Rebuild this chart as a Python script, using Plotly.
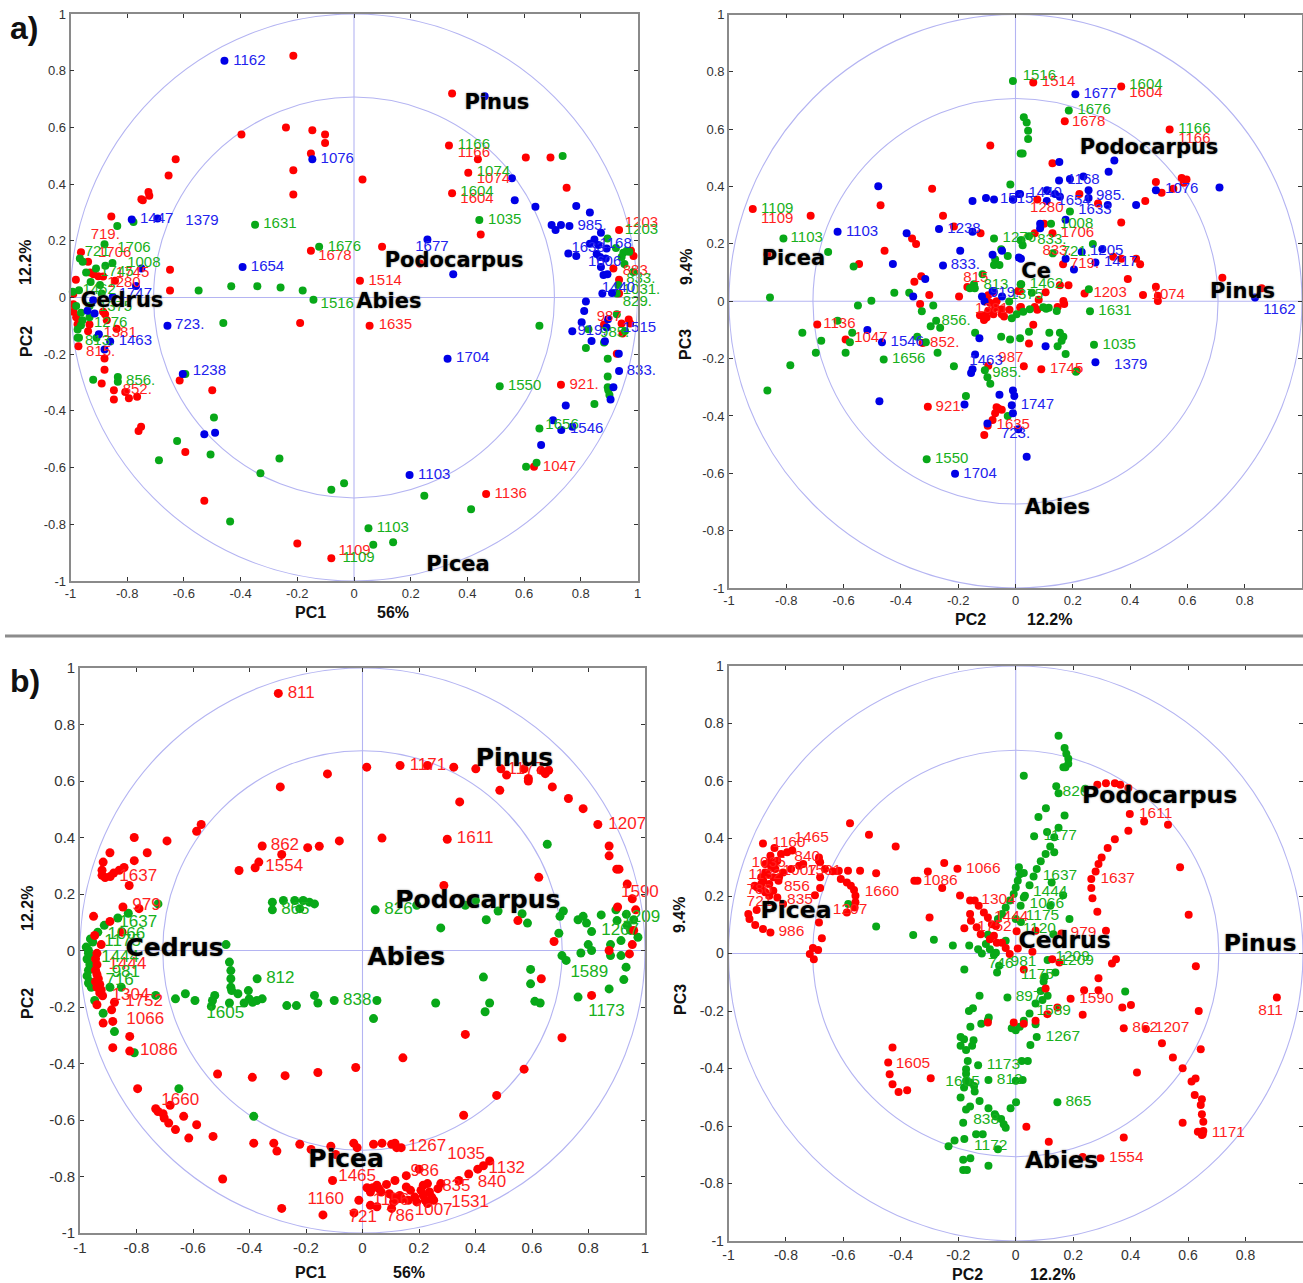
import plotly.graph_objects as go

PAGE_W, PAGE_H = 1303, 1283
TICK_VALUES = [-1, -0.8, -0.6, -0.4, -0.2, 0, 0.2, 0.4, 0.6, 0.8, 1]
TICK_LABELS = ["-1", "-0.8", "-0.6", "-0.4", "-0.2", "0", "0.2", "0.4", "0.6", "0.8", "1"]
CIRCLE_RADII = [1.0, 0.707]

# ---------- panel a) PC1 / PC2 ----------
A1_RED = [(-0.214,0.853),(-0.24,0.6),(-0.397,0.575),(-0.147,0.59),(-0.102,0.575),(-0.102,0.545),(-0.152,0.508),(-0.214,0.449),(-0.214,0.363),(-0.629,0.488),(-0.654,0.43),(-0.725,0.372),(-0.722,0.359),(-0.75,0.347),(-0.745,0.343),(-0.856,0.286),(-0.963,0.16),(-0.938,0.126),(-0.981,0.063),(-0.649,0.098),(-0.649,0.025),(-0.152,0.165),(-0.931,0.088),(-0.919,0.082),(-0.902,0.075),(-0.885,0.074),(-0.843,0.059),(-0.99,0.012),
(-0.19,-0.09),(-0.615,-0.293),(-0.5,-0.327),(-0.751,-0.456),(-0.76,-0.471),(-0.595,-0.545),(-0.528,-0.717),(-0.2,-0.868),(-0.08,-0.92),(-0.847,-0.327),(-0.847,-0.36),(-0.807,-0.333),(-0.794,-0.355),(-0.765,-0.35),(-0.89,-0.303),(-0.88,-0.255),(-0.88,-0.215),(-0.972,-0.172),(-0.938,-0.119),(-0.933,-0.095),(-0.837,-0.11),(-0.872,-0.08),(-0.878,-0.059),(-0.975,-0.094),(-0.98,-0.07),(-0.99,-0.05),(-0.99,-0.024),(-0.885,-0.05),
(0.346,0.72),(0.335,0.536),(0.437,0.488),(0.606,0.494),(0.693,0.494),(0.403,0.44),(0.75,0.387),(0.346,0.368),(0.447,0.222),(0.099,0.179),(0.03,0.416),(0.233,0.12),(0.021,0.059),(0.935,0.238),(0.977,0.165),(0.986,0.146),(0.915,0.102),(0.935,0.063),(0.935,0.014),
(0.055,-0.1),(0.73,-0.308),(0.882,-0.095),(0.944,-0.092),(0.969,-0.078),(0.974,-0.092),(0.947,-0.127),(0.927,-0.198),(0.635,-0.597),(0.466,-0.693)]
A1_GREEN = [(-0.835,0.252),(-0.778,0.266),(-0.88,0.188),(-0.967,0.138),(-0.957,0.126),(-0.91,0.102),(-0.945,0.088),(-0.877,0.112),(-0.852,0.122),(-0.929,0.055),(-0.896,0.044),(-0.992,0.02),(-0.97,0.026),(-0.89,0.014),(-0.548,0.025),(-0.433,0.04),(-0.341,0.04),(-0.259,0.035),(-0.181,0.025),(-0.143,-0.008),(-0.349,0.257),(-0.123,0.179),
(-0.461,-0.09),(-0.92,-0.29),(-0.833,-0.28),(-0.833,-0.297),(-0.494,-0.423),(-0.624,-0.506),(-0.506,-0.554),(-0.688,-0.574),(-0.263,-0.568),(-0.33,-0.62),(-0.08,-0.678),(-0.035,-0.655),(-0.437,-0.79),(-0.595,-0.27),(-0.908,-0.142),(-0.975,-0.142),(-0.97,-0.142),(-0.975,-0.113),(-0.933,-0.07),(-0.963,-0.098),(-0.958,-0.08),(-0.963,-0.054),(-0.933,-0.03),(-0.98,-0.03),
(0.736,0.499),(0.442,0.273),(0.894,0.208),(0.924,0.175),(0.944,0.143),(0.95,0.158),(0.962,0.165),(0.971,0.161),(0.954,0.118),(0.985,0.09),(0.932,0.044),(0.927,0.014),
(0.654,-0.1),(0.514,-0.313),(0.827,-0.112),(0.927,-0.059),(0.818,-0.178),(0.882,-0.159),(0.956,-0.118),(0.895,-0.216),(0.895,-0.279),(0.895,-0.317),(0.897,-0.327),(0.901,-0.344),(0.848,-0.376),(0.654,-0.462),(0.644,-0.583),(0.607,-0.597),(0.248,-0.699),(0.413,-0.747),(0.051,-0.814),(0.138,-0.863),(0.068,-0.872)]
A1_BLUE = [(-0.457,0.835),(-0.784,0.275),(-0.693,0.279),(-0.147,0.488),(-0.393,0.108),(-0.75,0.102),(-0.769,0.041),(-0.851,0.002),(-0.92,-0.01),
(-0.658,-0.1),(-0.604,-0.27),(-0.528,-0.482),(-0.49,-0.477),(-0.9,-0.13),(-0.86,-0.155),(-0.88,-0.183),(-0.94,-0.047),(-0.915,-0.056),
(0.461,0.71),(0.557,0.421),(0.567,0.343),(0.64,0.32),(0.697,0.256),(0.711,0.238),(0.73,0.256),(0.76,0.252),(0.784,0.323),(0.832,0.3),(0.871,0.228),(0.259,0.205),(0.35,0.082),(0.756,0.155),(0.784,0.146),(0.832,0.19),(0.848,0.205),(0.862,0.185),(0.856,0.153),(0.891,0.173),(0.888,0.138),(0.868,0.143),(0.871,0.108),(0.88,0.079),(0.894,0.082),(0.876,0.014),(0.91,0.016),(0.818,-0.014),
(0.33,-0.216),(0.196,-0.626),(0.812,-0.048),(0.803,-0.087),(0.77,-0.119),(0.896,-0.077),(0.891,-0.106),(0.838,-0.153),(0.885,-0.154),(0.934,-0.198),(0.935,-0.259),(0.915,-0.317),(0.905,-0.36),(0.747,-0.381),(0.702,-0.433),(0.731,-0.467),(0.66,-0.52),(0.77,-0.456)]
A1_RED_TEXT = [("719.",-0.929,0.22),("1706",-0.903,0.155),("1745",-0.84,0.087),("1280",-0.87,0.05),("1381",-0.884,-0.127),("815.",-0.945,-0.192),("852.",-0.816,-0.327),("1678",-0.126,0.146),("1514",0.051,0.059),("1635",0.087,-0.099),("1166",0.366,0.508),("1074",0.433,0.416),("1604",0.375,0.348),("1203",0.955,0.263),("883.",0.948,0.094),("987",0.856,-0.068),("921.",0.76,-0.308),("1047",0.666,-0.597),("1136",0.496,-0.693),("1109",-0.055,-0.894)]
A1_GREEN_TEXT = [("1706",-0.835,0.175),("721",-0.95,0.16),("1008",-0.8,0.122),("1745",-0.895,0.09),("1462",-0.958,0.025),("1375",-0.9,-0.035),("1276",-0.917,-0.09),("813.",-0.949,-0.156),("856.",-0.804,-0.297),("1631",-0.32,0.259),("1676",-0.093,0.179),("1516",-0.118,-0.024),("1166",0.366,0.537),("1074",0.433,0.441),("1604",0.375,0.372),("1035",0.473,0.273),("1203",0.955,0.238),("833.",0.96,0.063),("1031.",0.948,0.026),("829.",0.948,-0.018),("985.",0.868,-0.127),("1550",0.543,-0.313),("1656",0.675,-0.452),("1103",0.08,-0.814),("1109",-0.041,-0.921)]
A1_BLUE_TEXT = [("1162",-0.426,0.835),("1076",-0.118,0.489),("1447",-0.755,0.277),("1379",-0.595,0.268),("1654",-0.364,0.108),("1747",-0.83,0.012),("723.",-0.631,-0.099),("1463",-0.83,-0.153),("1238",-0.569,-0.26),("985.",0.788,0.253),("1168",0.866,0.187),("1633",0.767,0.173),("1606",0.825,0.126),("1677",0.216,0.179),("1440",0.874,0.032),("919.",0.788,-0.118),("1515",0.948,-0.108),("833.",0.962,-0.259),("1704",0.36,-0.216),("1546",0.762,-0.466),("1103",0.226,-0.626)]
A1_GENERA = [("Pinus",0.504,0.683),("Podocarpus",0.353,0.125),("Abies",0.123,-0.019),("Cedrus",-0.818,-0.016),("Picea",0.367,-0.947)]

# ---------- panel a) PC2 / PC3 ----------
A2_RED = [(-0.917,0.322),(-0.715,0.298),(-0.088,0.543),(-0.291,0.392),(-0.471,0.335),(-0.253,0.298),(-0.215,0.261),(-0.122,0.237),(-0.361,0.219),(-0.347,0.2),(-0.457,0.176),(-0.546,0.13),(-0.329,0.087),(-0.353,0.068),(-0.168,0.05),(-0.301,0.022),(-0.197,0.017),(-0.333,-0.01),(-0.077,0.032),(-0.095,0.021),(-0.866,0.164),
(-0.089,-0.005),(-0.066,0),(-0.071,-0.022),(-0.048,-0.028),(-0.095,-0.033),(-0.124,-0.049),(-0.077,-0.045),(-0.021,-0.03),(0.01,0.036),(0.016,-0.022),(-0.11,-0.065),(-0.115,-0.049),(-0.101,-0.057),(-0.048,-0.045),(-0.04,-0.053),
(-0.692,-0.081),(-0.593,-0.133),(-0.324,-0.146),(-0.306,-0.368),(-0.095,-0.225),(-0.066,-0.37),(-0.048,-0.378),(-0.06,-0.374),(-0.071,-0.391),(-0.08,-0.414),(-0.097,-0.434),(-0.109,-0.466),
(0.062,0.763),(0.369,0.749),(0.172,0.628),(0.538,0.599),(0.129,0.481),(0.58,0.43),(0.597,0.425),(0.588,0.413),(0.551,0.392),(0.49,0.416),(0.51,0.378),(0.453,0.35),(0.223,0.374),(0.076,0.355),(0.288,0.341),(0.369,0.275),(0.1,0.27),(0.067,0.237),(0.129,0.237),(0.341,0.155),(0.37,0.148),(0.421,0.148),(0.435,0.129),(0.166,0.129),(0.392,0.078),(0.722,0.082),(0.859,0.045),(0.49,0.051),(0.497,0.019),(0.497,0.001),(0.445,0.022),(0.241,0.027),(0.155,0.056),(0.185,0.056),(0.105,0.031),(0.081,0.005),(0.016,0.035),(0.167,0.001),(0.17,-0.01),(0.147,-0.02),(0.067,-0.02),(0.076,-0.03),(0.019,-0.02),
(0.062,-0.082),(0.047,-0.147),(0.029,-0.227),(0.09,-0.237),(0.214,-0.242)]
A2_GREEN = [(-0.009,0.768),(0.018,0.515),(-0.018,0.407),(-0.075,0.219),(-0.05,0.181),(-0.027,0.158),(-0.071,0.146),(-0.075,0.126),(-0.056,0.126),(0.018,0.213),(-0.654,0.172),(-0.565,0.121),(-0.81,0.219),(-0.857,0.013),(-0.423,0.03),(-0.371,0.03),(-0.503,0.002),(-0.55,-0.015),(-0.287,-0.015),(-0.327,-0.035),(-0.145,0.059),(-0.159,0.045),(-0.142,0.045),(-0.115,0.094),(-0.022,-0.001),(0.018,0.059),
(-0.621,-0.068),(-0.744,-0.11),(-0.678,-0.138),(-0.57,-0.11),(-0.578,-0.143),(-0.697,-0.18),(-0.786,-0.223),(-0.593,-0.18),(-0.866,-0.311),(-0.46,-0.203),(-0.296,-0.087),(-0.277,-0.068),(-0.263,-0.092),(-0.343,-0.124),(-0.313,-0.143),(-0.272,-0.18),(-0.215,-0.227),(-0.141,-0.11),(-0.05,-0.124),(-0.019,-0.133),(-0.173,-0.33),(-0.107,-0.241),(-0.098,-0.265),(-0.088,-0.288),(-0.31,-0.551),(-0.027,-0.4),(-0.013,-0.059),(0.004,-0.045),
(0.029,0.642),(0.039,0.623),(0.044,0.595),(0.044,0.566),(0.025,0.515),(0.186,0.665),(0.19,0.313),(0.124,0.27),(0.27,0.2),(0.13,0.167),(0.047,0.227),(0.021,0.213),(0.025,0.195),(0.02,0.059),(0.057,0.03),(0.256,0.042),(0.107,-0.026),(0.116,-0.023),(0.097,-0.021),(0.144,-0.034),(0.05,-0.028),(0.027,-0.037),(0.26,-0.035),
(0.047,-0.106),(0.118,-0.11),(0.155,-0.11),(0.167,-0.124),(0.161,-0.138),(0.147,-0.157),(0.016,-0.129),(0.274,-0.152),(0.175,-0.184),(0.211,-0.246)]
A2_BLUE = [(-0.479,0.401),(-0.621,0.242),(-0.38,0.237),(-0.267,0.252),(-0.15,0.242),(-0.15,0.35),(-0.103,0.36),(-0.075,0.355),(-0.009,0.355),(0.012,0.374),(-0.193,0.176),(-0.08,0.162),(-0.047,0.176),(-0.428,0.13),(-0.253,0.125),(-0.315,0.078),(-0.357,0.017),(-0.08,0.036),(-0.117,0.017),(-0.047,0.017),(-0.108,-0.001),(0.012,0.153),
(-0.517,-0.1),(-0.466,-0.143),(-0.475,-0.349),(-0.126,-0.129),(-0.141,-0.186),(-0.15,-0.237),(-0.155,-0.25),(-0.178,-0.36),(-0.211,-0.602),(-0.056,-0.326),(-0.009,-0.311),(-0.004,-0.33),(-0.013,-0.363),(-0.009,-0.391),(-0.098,-0.426),(0.01,-0.446),
(0.209,0.722),(0.712,0.397),(0.153,0.486),(0.345,0.491),(0.325,0.452),(0.152,0.421),(0.19,0.426),(0.237,0.435),(0.255,0.387),(0.255,0.36),(0.421,0.336),(0.322,0.336),(0.49,0.387),(0.11,0.387),(0.016,0.374),(-0.008,0.355),(0.109,0.35),(0.138,0.374),(0.155,0.364),(0.175,0.284),(0.086,0.27),(0.086,0.255),(0.019,0.148),(0.231,0.172),(0.303,0.181),(0.175,0.148),(0.204,0.111),(0.279,0.135),(0.836,0.013),
(0.105,-0.157),(0.279,-0.213),(0.039,-0.542)]
A2_RED_TEXT = [("1109",-0.888,0.285),("815",-0.182,0.079),("1381",-0.141,-0.028),("1136",-0.671,-0.081),("1047",-0.563,-0.13),("852.",-0.298,-0.146),("987",-0.06,-0.198),("921.",-0.279,-0.368),("1635",-0.066,-0.434),("1514",0.092,0.763),("1604",0.397,0.726),("1678",0.197,0.623),("1166",0.568,0.566),("1280",0.051,0.326),("1706",0.158,0.237),("833.",0.094,0.175),("719.",0.19,0.129),("1203",0.272,0.027),("1074",0.475,0.022),("1745",0.12,-0.237)]
A2_GREEN_TEXT = [("1109",-0.888,0.322),("1103",-0.785,0.219),("1276",-0.045,0.219),("813",-0.112,0.056),("856.",-0.258,-0.068),("1656",-0.431,-0.203),("985.",-0.081,-0.25),("1550",-0.281,-0.551),("1516",0.025,0.784),("1604",0.397,0.752),("1676",0.216,0.665),("1166",0.568,0.599),("1008",0.155,0.27),("833.",0.076,0.213),("721.",0.161,0.17),("1462",0.05,0.059),("1375",-0.02,0.02),("1631",0.289,-0.035),("1035",0.304,-0.152)]
A2_BLUE_TEXT = [("1103",-0.592,0.242),("1238",-0.238,0.252),("833.",-0.226,0.125),("919.",-0.089,0.027),("1546",-0.436,-0.143),("1463",-0.161,-0.21),("723.",-0.051,-0.463),("1704",-0.182,-0.602),("1677",0.237,0.722),("1168",0.181,0.422),("1076",0.522,0.39),("1440",0.045,0.375),("985.",0.281,0.367),("1654",0.146,0.35),("1515",-0.054,0.355),("1633",0.219,0.318),("1205",0.26,0.173),("1417",0.309,0.135),("1162",0.865,-0.03),("1379",0.344,-0.222),("1747",0.018,-0.363)]
A2_GENERA = [("Podocarpus",0.466,0.531),("Pinus",0.792,0.03),("Abies",0.146,-0.724),("Picea",-0.775,0.146),("Ce",0.072,0.1)]

# ---------- panel b) PC1 / PC2 ----------
B1_RED = [(-0.298,0.91),(0.015,0.649),(0.133,0.655),(0.23,0.655),(0.323,0.649),(0.401,0.643),(0.49,0.643),(0.51,0.621),(0.572,0.643),(0.632,0.638),(0.659,0.638),(0.647,0.626),(0.587,0.609),(0.587,0.6),(0.672,0.579),(0.486,0.567),(0.729,0.538),(0.781,0.502),(0.833,0.446),(0.873,0.37),(0.873,0.335),(0.9,0.288),(0.908,0.288),(0.937,0.235),(0.955,0.183),(0.967,0.144),(0.903,0.154),(0.96,0.071),(0.955,0.021),(0.873,0),(0.945,-0.012),(0.678,0.032),(0.55,0.106),(0.624,0.259),(0.288,0.23),(0.344,0.526),(0.3,0.394),(0.069,0.398),(-0.082,0.388),(-0.153,0.369),(-0.194,0.364),(-0.286,0.34),(-0.355,0.37),(-0.291,0.579),(-0.124,0.625),(-0.367,0.313),(-0.38,0.293),(-0.437,0.283),(-0.571,0.446),(-0.587,0.422),(-0.692,0.388),(-0.762,0.346),(-0.808,0.4),(-0.808,0.318),(-0.894,0.346),(-0.918,0.313),(-0.922,0.284),(-0.922,0.266),(-0.911,0.258),(-0.893,0.262),(-0.881,0.274),(-0.861,0.284),(-0.844,0.294),(-0.826,0.23),(-0.848,0.154),(-0.791,0.148),(-0.894,0.103),(-0.952,0.121),(-0.851,0.065),(-0.925,0.021),(-0.948,0.053),
(0.633,-0.1),(0.811,-0.159),(0.364,-0.297),(0.706,-0.309),(0.143,-0.38),(-0.024,-0.414),(-0.158,-0.432),(-0.274,-0.443),(-0.39,-0.449),(-0.513,-0.437),(0.572,-0.42),(0.475,-0.513),(0.358,-0.583),(-0.796,-0.489),(-0.681,-0.548),(-0.732,-0.56),(-0.724,-0.57),(-0.706,-0.578),(-0.702,-0.593),(-0.686,-0.611),(-0.662,-0.634),(-0.633,-0.587),(-0.587,-0.617),(-0.615,-0.664),(-0.529,-0.658),(-0.385,-0.682),(-0.314,-0.682),(-0.303,-0.71),(-0.222,-0.686),(-0.182,-0.704),(-0.112,-0.693),(-0.095,-0.722),(-0.031,-0.682),(-0.019,-0.698),(0.039,-0.686),(0.069,-0.682),(0.103,-0.686),(0.115,-0.682),(0.121,-0.698),(0.137,-0.698),(-0.495,-0.809),(-0.286,-0.913),(-0.14,-0.936),(-0.106,-0.814),(-0.013,-0.884),(-0.03,-0.929),(0.028,-0.902),(0.051,-0.907),(0.103,-0.913),(0.45,-0.745),(0.428,-0.762),(0.408,-0.774),(0.376,-0.791),(0.341,-0.814),(0.277,-0.825),(0.2,-0.774),(0.155,-0.797),(0.115,-0.814),
(0.016,-0.84),(0.036,-0.84),(0.058,-0.843),(0.085,-0.828),(0.066,-0.855),(0.095,-0.861),(0.11,-0.873),(0.125,-0.879),(0.155,-0.837),(0.17,-0.849),(0.14,-0.879),(0.185,-0.873),(0.192,-0.89),(0.215,-0.831),(0.23,-0.825),(0.215,-0.867),(0.237,-0.855),(0.252,-0.884),(0.267,-0.843),(0.222,-0.884),(0.162,-0.884),(0.207,-0.849),(0.245,-0.873),(0.23,-0.896),(0.028,-0.855),(0.051,-0.831),(0.11,-0.89),(0.132,-0.867),
(-0.94,-0.01),(-0.945,-0.03),(-0.94,-0.05),(-0.945,-0.07),(-0.94,-0.085),(-0.935,-0.1),(-0.945,-0.11),(-0.93,-0.12),(-0.94,-0.13),(-0.925,-0.14),(-0.93,-0.15),(-0.92,-0.16),(-0.94,-0.192),(-0.878,-0.183),(-0.888,-0.21),(-0.918,-0.257),(-0.884,-0.251),(-0.824,-0.304),(-0.884,-0.344),(-0.824,-0.356)]
B1_GREEN = [(0.654,0.376),(0.277,0.08),(0.438,0.109),(0.48,0.14),(0.565,0.13),(0.584,0.097),(0.364,0.16),(0.4,0.177),(0.192,0.16),(0.045,0.144),(0.711,0.14),(0.699,0.121),(0.695,0.061),(0.763,0.109),(0.781,0.121),(0.793,0.097),(0.845,0.126),(0.811,0.067),(0.897,0.144),(0.901,0.106),(0.934,0.128),(0.96,0.109),(0.937,0.089),(0.949,0.071),(0.915,0.035),(0.975,0.047),(0.878,0.021),(0.799,0.021),(0.811,0),(0.773,-0.009),(0.878,-0.018),(0.915,-0.018),(0.706,-0.018),(-0.483,0.021),(-0.319,0.171),(-0.319,0.144),(-0.28,0.177),(-0.24,0.177),(-0.21,0.177),(-0.188,0.171),(-0.17,0.165),(-0.222,0.148),(-0.724,0.165),(-0.829,0.132),(-0.866,0.115),(-0.914,0.089),(-0.937,0.065),(-0.963,0.041),(-0.978,0.012),
(0.595,-0.067),(0.595,-0.118),(0.428,-0.094),(0.721,-0.035),(0.933,-0.059),(0.925,-0.103),(0.873,-0.136),(0.763,-0.165),(0.61,-0.18),(0.629,-0.186),(0.45,-0.186),(0.434,-0.217),(0.259,-0.186),(0.051,-0.177),(0.039,-0.241),(-0.158,-0.186),(-0.1,-0.177),(-0.17,-0.159),(-0.234,-0.195),(-0.268,-0.195),(-0.355,-0.171),(-0.374,-0.177),(-0.389,-0.183),(-0.404,-0.142),(-0.401,-0.171),(-0.419,-0.186),(-0.373,-0.1),(-0.471,-0.041),(-0.466,-0.071),(-0.466,-0.1),(-0.466,-0.13),(-0.463,-0.142),(-0.441,-0.153),(-0.471,-0.186),(-0.523,-0.159),(-0.531,-0.177),(-0.535,-0.198),(-0.593,-0.177),(-0.627,-0.153),(-0.662,-0.171),(-0.732,-0.159),(-0.918,-0.222),(-0.878,-0.287),(-0.808,-0.362),(-0.65,-0.489),(-0.385,-0.587),(-0.894,-0.13),(-0.854,-0.13),(-0.948,-0.177),
(-0.97,-0.01),(-0.975,-0.03),(-0.965,-0.05),(-0.97,-0.07),(-0.975,-0.09),(-0.965,-0.11),(-0.96,-0.13),(-0.97,0.0),(-0.96,-0.02),(-0.96,-0.06),(-0.97,-0.115),(-0.955,0.03)]
B1_RED_TEXT = [("811",-0.265,0.91),("1171",0.167,0.655),("1177",0.513,0.64),("1207",0.87,0.446),("1611",0.334,0.394),("862",-0.325,0.372),("1554",-0.344,0.296),("1637",-0.861,0.26),("979",-0.815,0.157),("1590",0.915,0.203),("1444",-0.899,-0.05),("1304",-0.888,-0.159),("1752",-0.84,-0.183),("1066",-0.836,-0.245),("1086",-0.788,-0.356),("1660",-0.712,-0.533),("1267",0.162,-0.696),("1035",0.3,-0.724),("1132",0.446,-0.772),("986",0.17,-0.783),("1465",-0.086,-0.8),("840",0.408,-0.822),("835",0.282,-0.835),("1531",0.314,-0.894),("1007",0.185,-0.92),("786",0.083,-0.943),("721",-0.049,-0.947),("1160",-0.195,-0.882),("1156",0.036,-0.887)]
B1_GREEN_TEXT = [("1637",-0.861,0.1),("865",-0.288,0.144),("826",0.077,0.144),("1209",0.92,0.116),("1267",0.845,0.069),("1066",-0.903,0.057),("1175",-0.914,0.03),("1444",-0.925,-0.024),("981",-0.888,-0.077),("716",-0.91,-0.106),("812",-0.341,-0.1),("838",-0.069,-0.177),("1605",-0.553,-0.224),("1589",0.736,-0.077),("1173",0.799,-0.217)]
B1_GENERA = [("Pinus",0.538,0.676),("Podocarpus",0.408,0.171),("Cedrus",-0.665,0.002),("Abies",0.155,-0.03),("Picea",-0.058,-0.745)]

# ---------- panel b) PC2 / PC3 ----------
B2_RED = [(-0.577,0.453),(-0.511,0.413),(-0.418,0.372),(-0.88,0.383),(-0.84,0.367),(-0.249,0.315),(-0.306,0.285),(-0.203,0.295),(-0.353,0.253),(-0.342,0.253),(-0.256,0.228),(-0.194,0.202),(-0.159,0.184),(-0.143,0.184),(-0.129,0.166),(-0.111,0.143),(-0.097,0.125),(-0.083,0.102),(-0.069,0.096),(-0.159,0.137),(-0.156,0.114),(-0.179,0.088),(-0.136,0.091),(-0.3,0.125),(-0.122,0.067),(-0.09,0.05),(-0.076,0.062),(-0.066,0.037),(-0.048,0.037),(-0.035,0.019),(-0.021,-0.002),(0.003,0.077),(0.007,0.017),(0.069,0.079),(0.058,0.006),(0.159,0.07),(0.314,0.079),(0.284,0.145),(0.267,0.192),(0.263,0.228),(0.263,0.259),(0.278,0.285),(0.288,0.311),(0.299,0.334),(0.32,0.367),(0.345,0.397),(0.392,0.427),(0.447,0.459),(0.397,0.485),(0.53,0.448),(0.572,0.3),(0.602,0.135),(0.392,0.576),(0.364,0.587),(0.345,0.592),(0.314,0.592),(0.284,0.587),
(-0.931,0.137),(-0.927,0.12),(-0.907,0.099),(-0.88,0.085),(-0.854,0.073),(-0.902,0.151),(-0.685,0.108),(-0.675,0.053),(-0.706,0.019),(-0.688,0.012),(-0.717,-0.002),(-0.584,0.288),(-0.542,0.288),(-0.486,0.279),(-0.616,0.288),(-0.637,0.286),(-0.664,0.294),(-0.681,0.317),(-0.685,0.334),(-0.699,0.203),(-0.609,0.259),(-0.588,0.247),(-0.574,0.236),(-0.563,0.221),(-0.558,0.201),(-0.558,0.178),(-0.561,0.16),(-0.588,0.143),(-0.681,0.228),(-0.681,0.265),
(-0.886,0.242),(-0.872,0.282),(-0.858,0.317),(-0.854,0.34),(-0.872,0.311),(-0.886,0.265),(-0.886,0.224),(-0.872,0.213),(-0.858,0.242),(-0.844,0.265),(-0.837,0.294),(-0.83,0.323),(-0.817,0.346),(-0.796,0.352),(-0.778,0.358),(-0.824,0.265),(-0.81,0.282),(-0.782,0.294),(-0.754,0.305),(-0.74,0.311),(-0.858,0.201),(-0.83,0.195),(-0.826,0.253),(-0.844,0.218),(-0.879,0.253),(-0.865,0.276),(-0.851,0.3),(-0.837,0.317),(-0.9,0.23),(-0.909,0.236),(-0.81,0.172),(-0.685,0.323),
(-0.703,-0.02),(0.127,-0.02),(0.152,-0.031),(0.349,-0.02),(0.335,-0.035),(0.627,-0.044),(0.288,-0.086),(0.028,-0.056),(0.104,-0.122),(0.238,-0.128),(0.288,-0.128),(0.191,-0.157),(0.401,-0.179),(0.371,-0.188),(0.637,-0.2),(0.909,-0.153),(0.145,-0.188),(0.11,-0.211),(0.233,-0.213),(0.069,-0.234),(0.028,-0.244),(-0.007,-0.24),(-0.097,-0.24),(0.376,-0.26),(0.453,-0.263),(0.509,-0.312),(0.547,-0.362),(0.581,-0.399),(0.644,-0.333),(0.422,-0.414),(0.626,-0.435),(0.612,-0.445),(0.623,-0.492),(0.648,-0.507),(0.644,-0.527),(0.648,-0.559),(0.581,-0.589),(0.653,-0.585),(0.634,-0.62),(0.653,-0.617),(0.651,-0.629),(0.648,-0.631),(0.376,-0.64),(0.115,-0.655),(0.037,-0.603),(0.233,-0.708),(0.295,-0.712),(-0.429,-0.327),(-0.444,-0.379),(-0.439,-0.42),(-0.429,-0.455),(-0.408,-0.482),(-0.378,-0.476),(-0.296,-0.434)]
B2_GREEN = [(0.149,0.757),(0.17,0.715),(0.176,0.695),(0.183,0.677),(0.183,0.66),(0.173,0.648),(0.166,0.648),(0.028,0.618),(0.141,0.582),(0.149,0.557),(0.242,0.573),(0.105,0.505),(0.079,0.475),(0.17,0.48),(0.149,0.437),(0.109,0.423),(0.064,0.408),(0.134,0.404),(0.12,0.372),(0.104,0.346),(0.134,0.352),(0.087,0.321),(0.073,0.294),(0.062,0.268),(0.011,0.3),(0.028,0.28),(0.014,0.276),(0.007,0.253),(0,0.23),(-0.007,0.207),(-0.021,0.184),(-0.035,0.16),(-0.048,0.137),(-0.062,0.12),(0.048,0.237),(0.032,0.201),(0.028,0.195),(0.125,0.247),(0.165,0.203),(0.12,0.166),(0.187,0.12),(0.017,0.166),(0,0.12),(0.018,0.11),(0.131,0.067),(-0.035,0.044),(-0.097,0.065),(-0.104,0.033),(-0.09,0.015),(-0.069,0.003),(-0.076,-0.005),(-0.162,0.028),(-0.131,0.015),(-0.118,0),(-0.219,0.028),(-0.285,0.048),(-0.357,0.064),(-0.486,0.094),(-0.583,0.172),(0.111,-0.023),
(-0.179,-0.056),(-0.065,-0.066),(-0.058,-0.043),(0.138,-0.066),(0.101,-0.081),(0.097,-0.097),(0.087,-0.13),(0.111,-0.147),(0.093,-0.162),(0.069,-0.174),(0.048,-0.209),(0.028,-0.234),(0.069,-0.246),(0.381,-0.132),(-0.126,-0.147),(-0.029,-0.153),(-0.149,-0.19),(-0.163,-0.2),(-0.094,-0.223),(-0.097,-0.232),(-0.12,-0.244),(-0.158,-0.255),(-0.014,-0.26),(0,-0.267),(0.014,-0.255),(0.073,-0.29),(0.051,-0.318),(-0.192,-0.29),(-0.18,-0.298),(-0.147,-0.302),(-0.152,-0.321),(-0.192,-0.321),(-0.173,-0.336),(-0.167,-0.374),(-0.131,-0.389),(0.021,-0.374),(0.042,-0.374),(-0.173,-0.403),(-0.173,-0.418),(-0.095,-0.44),(0,-0.443),(0.024,-0.44),(-0.173,-0.443),(-0.159,-0.449),(-0.18,-0.466),(-0.145,-0.461),(-0.143,-0.48),(-0.192,-0.501),(-0.126,-0.513),(0.001,-0.517),(0.145,-0.517),(-0.159,-0.532),(-0.173,-0.543),(-0.095,-0.538),(-0.018,-0.538),(-0.073,-0.559),(-0.069,-0.567),(-0.051,-0.576),(-0.042,-0.594),(-0.035,-0.606),(-0.183,-0.589),(-0.138,-0.629),(-0.115,-0.629),(-0.179,-0.645),(-0.213,-0.65),(-0.234,-0.67),(-0.062,-0.681),(-0.183,-0.717),(-0.158,-0.712),(-0.095,-0.738),(-0.183,-0.753),(-0.17,-0.753)]
B2_RED_TEXT = [("1465",-0.771,0.401),("1160",-0.848,0.383),("840",-0.771,0.334),("1007",-0.812,0.288),("1035",-0.92,0.314),("1132",-0.931,0.274),("786",-0.937,0.221),("721",-0.937,0.178),("856",-0.807,0.23),("835",-0.796,0.184),("986",-0.826,0.075),("1660",-0.526,0.213),("1207",-0.637,0.151),("1531",-0.727,0.288),("1086",-0.322,0.253),("1066",-0.173,0.295),("1304",-0.12,0.184),("1444",-0.076,0.128),("1752",-0.134,0.091),("1611",0.429,0.485),("1637",0.295,0.259),("979",0.191,0.07),("1590",0.221,-0.157),("862",0.406,-0.26),("1207",0.484,-0.26),("1605",-0.418,-0.386),("1171",0.682,-0.625),("1554",0.325,-0.712),("811",0.844,-0.202)]
B2_GREEN_TEXT = [("826",0.163,0.561),("1177",0.097,0.41),("1637",0.094,0.268),("1444",0.06,0.213),("1066",0.048,0.172),("1175",0.035,0.129),("1120",0.024,0.085),("746",-0.097,-0.037),("981",-0.018,-0.031),("1209",0.138,-0.012),("1209",0.152,-0.026),("1175",0.017,-0.074),("897",0,-0.151),("1589",0.072,-0.2),("1267",0.104,-0.29),("1173",-0.101,-0.389),("1605",-0.245,-0.449),("812",-0.066,-0.44),("865",0.173,-0.517),("838",-0.148,-0.581),("1172",-0.145,-0.669)]
B2_GENERA = [("Podocarpus",0.501,0.543),("Picea",-0.765,0.143),("Cedrus",0.17,0.041),("Pinus",0.851,0.029),("Abies",0.159,-0.727)]

# ---------- styling ----------
RED, GREEN, BLUE = "#ff0000", "#08a818", "#0000e6"
RED_T, GREEN_T, BLUE_T = "#ff1f1f", "#18b020", "#2222ee"
GUIDE = "#b4b4f2"
FONT = "Liberation Sans"
PANELS = [
    dict(n=1, box=(70.5, 637.5, 14, 581), ms=8, ts=15, gs=21, tick=13,
         pts=[(A1_RED, RED), (A1_GREEN, GREEN), (A1_BLUE, BLUE)],
         txt=[(A1_RED_TEXT, RED_T), (A1_GREEN_TEXT, GREEN_T), (A1_BLUE_TEXT, BLUE_T)], gen=A1_GENERA),
    dict(n=2, box=(729, 1302, 14.5, 588), ms=8, ts=15, gs=21, tick=13,
         pts=[(A2_RED, RED), (A2_GREEN, GREEN), (A2_BLUE, BLUE)],
         txt=[(A2_RED_TEXT, RED_T), (A2_GREEN_TEXT, GREEN_T), (A2_BLUE_TEXT, BLUE_T)], gen=A2_GENERA),
    dict(n=3, box=(80, 645, 668, 1233), ms=9, ts=17, gs=25, tick=15,
         pts=[(B1_GREEN, GREEN), (B1_RED, RED)],
         txt=[(B1_RED_TEXT, RED_T), (B1_GREEN_TEXT, GREEN_T)], gen=B1_GENERA),
    dict(n=4, box=(728.5, 1303, 666, 1241), ms=8, ts=15.5, gs=23.5, tick=14,
         pts=[(B2_GREEN, GREEN), (B2_RED, RED)],
         txt=[(B2_RED_TEXT, RED_T), (B2_GREEN_TEXT, GREEN_T)], gen=B2_GENERA),
]
AXIS_NOTES = [
    ("PC1", 310, 612, 0), ("56%", 393, 613, 0), ("PC2", 26, 342, -90), ("12.2%", 26, 263, -90),
    ("PC2", 970, 619, 0), ("12.2%", 1049, 620, 0), ("PC3", 686, 345, -90), ("9.4%", 686, 267, -90),
    ("PC1", 310, 1272, 0), ("56%", 409, 1272, 0), ("PC2", 27, 1003, -90), ("12.2%", 27, 908, -90),
    ("PC2", 967, 1274, 0), ("12.2%", 1052, 1274, 0), ("PC3", 680, 1000, -90), ("9.4%", 680, 915, -90),
]
PANEL_TAGS = [("a)", 24, 28), ("b)", 25, 681)]

fig = go.Figure()
layout = dict(width=PAGE_W, height=PAGE_H, margin=dict(l=0, r=0, t=0, b=0), showlegend=False,
              paper_bgcolor="white", plot_bgcolor="white", shapes=[], annotations=[],
              hovermode=False, font=dict(family=FONT))

def fx(p): return p / PAGE_W
def fy(p): return 1 - p / PAGE_H

for p in PANELS:
    n = p["n"]
    suf = "" if n == 1 else str(n)
    xa, ya = "x" + suf, "y" + suf
    x0, x1, y0, y1 = p["box"]
    common = dict(range=[-1, 1], tickmode="array", tickvals=TICK_VALUES, ticktext=TICK_LABELS,
                  automargin=False, ticks="inside", ticklen=4, tickwidth=1.2, tickcolor="#333", showgrid=False,
                  zeroline=False, showline=True, linecolor="#8a8a8a", linewidth=1.6, mirror="ticks",
                  tickfont=dict(family=FONT, size=p["tick"], color="#333"))
    layout["xaxis" + suf] = dict(common, domain=[fx(x0), min(fx(x1), 1)], anchor=ya)
    layout["yaxis" + suf] = dict(common, domain=[fy(y1), fy(y0)], anchor=xa)
    for r in CIRCLE_RADII:
        layout["shapes"].append(dict(type="circle", xref=xa, yref=ya, x0=-r, x1=r, y0=-r, y1=r,
                                     line=dict(color=GUIDE, width=1.1), layer="below"))
    layout["shapes"].append(dict(type="line", xref=xa, yref=ya, x0=-1, x1=1, y0=0, y1=0,
                                 line=dict(color=GUIDE, width=1.1), layer="below"))
    layout["shapes"].append(dict(type="line", xref=xa, yref=ya, x0=0, x1=0, y0=-1, y1=1,
                                 line=dict(color=GUIDE, width=1.1), layer="below"))
    for pts, col in p["pts"]:
        fig.add_trace(go.Scatter(x=[a for a, _ in pts], y=[b for _, b in pts], mode="markers",
                                 xaxis=xa, yaxis=ya, cliponaxis=False,
                                 marker=dict(size=p["ms"], color=col, line=dict(width=0))))
    for items, col in p["txt"]:
        fig.add_trace(go.Scatter(x=[i[1] for i in items], y=[i[2] for i in items], text=[i[0] for i in items],
                                 mode="text", textposition="middle right", xaxis=xa, yaxis=ya, cliponaxis=False,
                                 textfont=dict(family=FONT, size=p["ts"], color=col)))
    g = p["gen"]
    fig.add_trace(go.Scatter(x=[i[1] for i in g], y=[i[2] for i in g], text=[i[0] for i in g],
                             mode="text", textposition="middle center", xaxis=xa, yaxis=ya, cliponaxis=False,
                             textfont=dict(family="DejaVu Sans", size=p["gs"], color="black", weight="bold",
                                           shadow="0 0 2px #777")))

for label, px, py, ang in AXIS_NOTES:
    layout["annotations"].append(dict(text="<b>%s</b>" % label, x=fx(px), y=fy(py), xref="paper", yref="paper",
                                      xanchor="center", yanchor="middle", showarrow=False, textangle=ang,
                                      font=dict(family=FONT, size=16, color="#111")))
for label, px, py in PANEL_TAGS:
    layout["annotations"].append(dict(text="<b>%s</b>" % label, x=fx(px), y=fy(py), xref="paper", yref="paper",
                                      xanchor="center", yanchor="middle", showarrow=False,
                                      font=dict(family=FONT, size=32, color="#111")))
layout["shapes"].append(dict(type="line", xref="paper", yref="paper", x0=fx(5), x1=1, y0=fy(636), y1=fy(636),
                             line=dict(color="#8c8c8c", width=3)))
fig.update_layout(**layout)
fig.write_html("out.html", post_script="document.body.style.margin='0';", config=dict(displayModeBar=False))
